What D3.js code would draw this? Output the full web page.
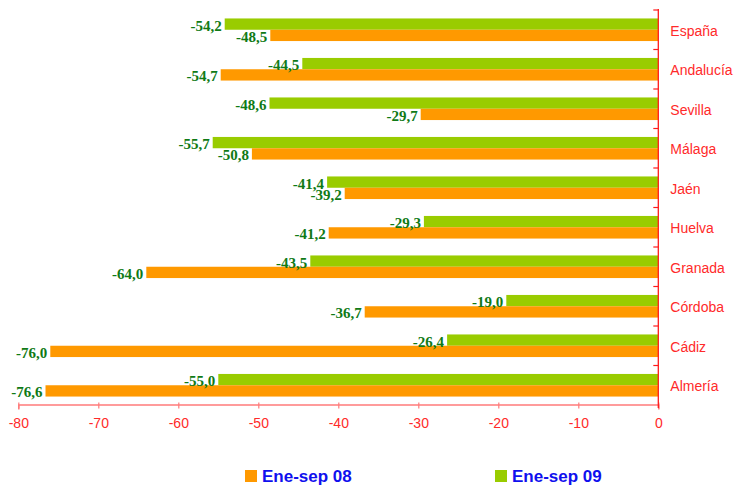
<!DOCTYPE html>
<html>
<head>
<meta charset="utf-8">
<script src="https://cdn.jsdelivr.net/npm/d3@7"></script>
<style>
  html, body { margin: 0; padding: 0; background: #fff; }
  svg { display: block; }
</style>
</head>
<body>
<svg id="chart" width="733" height="485"></svg>
<script>
// Provinces, top to bottom
const categories = ["España", "Andalucía", "Sevilla", "Málaga", "Jaén", "Huelva", "Granada", "Córdoba", "Cádiz", "Almería"];
// Variation (%) January–September 2008
const values08 = [-48.5, -54.7, -29.7, -50.8, -39.2, -41.2, -64.0, -36.7, -76.0, -76.6];
// Variation (%) January–September 2009
const values09 = [-54.2, -44.5, -48.6, -55.7, -41.4, -29.3, -43.5, -19.0, -26.4, -55.0];
const seriesNames = ["Ene-sep 08", "Ene-sep 09"];
const xTicks = [-80, -70, -60, -50, -40, -30, -20, -10, 0];

const colors = { s08: "#ff9900", s09: "#99cc00" };
const svg = d3.select("#chart");

const x = d3.scaleLinear().domain([-80, 0]).range([18.3, 658.3]);
const y = d3.scaleBand().domain(categories).range([10, 405]);
const barH = 11.3;
const groupOffset = (y.bandwidth() - 2 * barH) / 2;

const fmt = v => d3.format(".1f")(v).replace(".", ",").replace("−", "-");

const rows = categories.map((c, i) => ({ cat: c, v08: values08[i], v09: values09[i] }));

// Bars: 2009 on top, 2008 below
const g = svg.append("g");
rows.forEach(d => {
  const top = y(d.cat) + groupOffset;
  g.append("rect")
    .attr("x", x(d.v09)).attr("y", top)
    .attr("width", x(0) - x(d.v09)).attr("height", barH)
    .attr("fill", colors.s09);
  g.append("rect")
    .attr("x", x(d.v08)).attr("y", top + barH)
    .attr("width", x(0) - x(d.v08)).attr("height", barH)
    .attr("fill", colors.s08);
});

// Value labels
const labelStyle = sel => sel
  .attr("text-anchor", "end")
  .attr("dominant-baseline", "central")
  .attr("font-family", "'Liberation Serif', 'Times New Roman', serif")
  .attr("font-weight", "bold")
  .attr("font-size", "15px")
  .attr("fill", "#107a16");
rows.forEach(d => {
  const top = y(d.cat) + groupOffset;
  svg.append("text").call(labelStyle)
    .attr("x", x(d.v09) - 3).attr("y", top + barH / 2 + 1.5)
    .text(fmt(d.v09));
  svg.append("text").call(labelStyle)
    .attr("x", x(d.v08) - 3).attr("y", top + barH * 1.5 + 1.5)
    .text(fmt(d.v08));
});

// Horizontal value axis
const xAxis = d3.axisBottom(x).tickValues(xTicks).tickSize(5).tickPadding(9)
  .tickFormat(d => String(d));
const xg = svg.append("g").attr("transform", "translate(0,404.5)").call(xAxis);
xg.select(".domain").attr("stroke", "#ff7b7b").attr("stroke-width", 1.5);
xg.selectAll(".tick line").attr("stroke", "#ff7b7b").attr("stroke-width", 1.2)
  .attr("y1", -2).attr("y2", 4);
xg.selectAll(".tick text")
  .attr("fill", "#ff2a2a")
  .attr("font-family", "'Liberation Sans', Arial, sans-serif")
  .attr("font-size", "14px");

// Vertical category axis at zero
const yAxisG = svg.append("g").attr("transform", `translate(${x(0)},0)`);
yAxisG.append("line").attr("x1", 0).attr("x2", 0).attr("y1", 9).attr("y2", 408)
  .attr("stroke", "#ff1a1a").attr("stroke-width", 1.3);
const boundaries = categories.map(c => y(c));
yAxisG.selectAll("line.tk").data(boundaries).enter().append("line")
  .attr("class", "tk")
  .attr("x1", -5).attr("x2", 0).attr("y1", d => d).attr("y2", d => d)
  .attr("stroke", "#ff1a1a").attr("stroke-width", 1.2);

// Category labels
svg.selectAll("text.cat").data(categories).enter().append("text")
  .attr("class", "cat")
  .attr("x", x(0) + 12)
  .attr("y", d => y(d) + y.bandwidth() / 2 + 1)
  .attr("dominant-baseline", "central")
  .attr("font-family", "'Liberation Sans', Arial, sans-serif")
  .attr("font-size", "14px")
  .attr("fill", "#ff2a2a")
  .text(d => d);

// Legend
const legendItems = [
  { name: seriesNames[0], color: colors.s08, x: 245 },
  { name: seriesNames[1], color: colors.s09, x: 495 }
];
const lg = svg.selectAll("g.legend").data(legendItems).enter().append("g")
  .attr("class", "legend")
  .attr("transform", d => `translate(${d.x},470)`);
lg.append("rect").attr("width", 12).attr("height", 12).attr("fill", d => d.color);
lg.append("text")
  .attr("x", 17).attr("y", 6.5)
  .attr("dominant-baseline", "central")
  .attr("font-family", "'Liberation Sans', Arial, sans-serif")
  .attr("font-weight", "bold")
  .attr("font-size", "17px")
  .attr("fill", "#1010ee")
  .text(d => d.name);
</script>
</body>
</html>
